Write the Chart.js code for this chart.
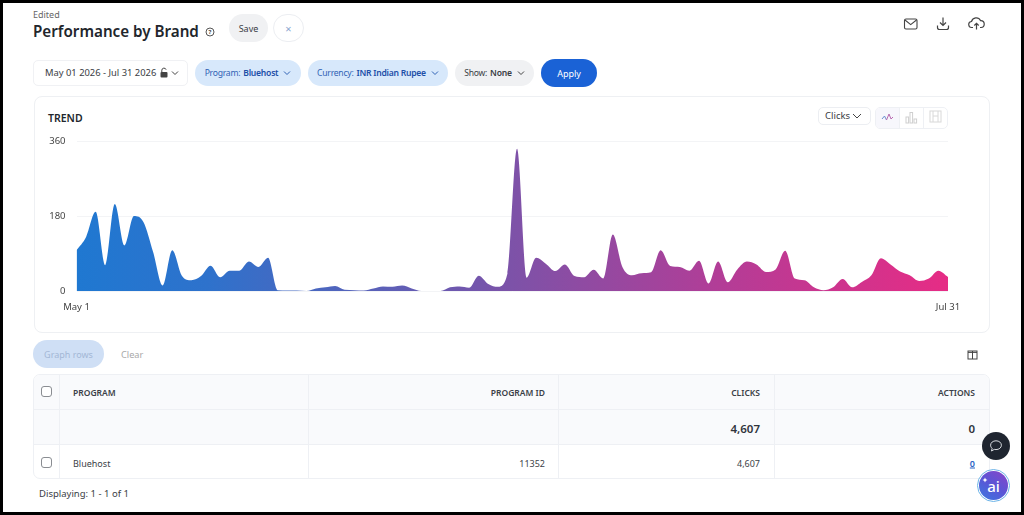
<!DOCTYPE html>
<html>
<head>
<meta charset="utf-8">
<title>Performance by Brand</title>
<script src="https://cdn.jsdelivr.net/npm/chart.js@4"></script>
<style>
  html, body { margin: 0; padding: 0; background: #fff; }
  body { width: 1024px; height: 515px; position: relative; overflow: hidden; font-family: "Noto Sans", sans-serif; color: #2b2f36; }
  #frame { position: absolute; left: 0; top: 0; width: 1024px; height: 515px; box-sizing: border-box; border: 3px solid #000; pointer-events: none; z-index: 5; }
  .abs { position: absolute; white-space: nowrap; }
  .pill { position: absolute; display: flex; align-items: center; justify-content: center; box-sizing: border-box; border-radius: 14px; font-size: 9px; white-space: nowrap; }
  .filter { font-size: 8.6px; letter-spacing: -0.25px; }
  .blue { background: #d7e8fb; color: #2f62b5; }
  .blue b { color: #1d4fa8; margin-left: 3px; font-weight: 600; }
  .grey { background: #f0f1f3; color: #3a3d44; }
  .grey b { margin-left: 3px; font-weight: 600; }
  .chev { margin-left: 5px; }
  .th { font-size: 8.5px; font-weight: 600; color: #3b3f47; transform: translateY(-50%); }
  .td { font-size: 9px; color: #3b3f47; transform: translateY(-50%); }
  .r { transform: translate(-100%, -50%); }
  .line { position: absolute; background: #eef0f4; }
  .check { position: absolute; width: 11px; height: 11px; box-sizing: border-box; border: 1px solid #8a8d92; border-radius: 3px; background: #fff; }
  #chartBox { position: absolute; left: 34px; top: 125px; width: 956px; height: 200px; }
  svg { position: absolute; fill: none; }
</style>
</head>
<body>
<div id="frame"></div>

<div class="abs" style="left:33px;top:8px;font-size:9px;color:#666">Edited</div>
<div class="abs" style="left:33px;top:21px;font-size:15.2px;font-weight:600;color:#22262c">Performance by Brand</div>
<svg style="left:205px;top:27px" width="10" height="10" viewBox="0 0 10 10"><circle cx="5" cy="5" r="4" stroke="#555" stroke-width="1"/><text x="5" y="7.3" font-size="6" font-weight="700" fill="#444" text-anchor="middle">?</text></svg>
<div class="pill grey" style="left:229px;top:14px;width:39px;height:28px">Save</div>
<div class="pill" style="left:273px;top:14px;width:31px;height:28px;border:1px solid #eceef2;color:#8aa6cf;font-size:11px">×</div>

<svg style="left:903px;top:17px" width="16" height="14" viewBox="0 0 16 14" stroke="#444" stroke-width="1.1"><rect x="1.5" y="2" width="12.5" height="10" rx="1.5"/><path d="M2 3l5.700 4.600L13.500 3"/></svg>
<svg style="left:935px;top:16px" width="16" height="15" viewBox="0 0 16 15" stroke="#444" stroke-width="1.2"><path d="M8 1.500v7.500M5 6.500L8 9.500l3-3M2.500 9.500v2a2 2 0 0 0 2 2h7a2 2 0 0 0 2-2v-2"/></svg>
<svg style="left:968px;top:16px" width="17" height="15" viewBox="0 0 17 15" stroke="#444" stroke-width="1.2"><path d="M5 11.500H4a3 3 0 0 1-.5-6A4.800 4.800 0 0 1 12.500 4.600 3.400 3.400 0 0 1 13 11.500h-1M8.500 13.500V7.500M6.300 9.500l2.200-2.200 2.200 2.200"/></svg>

<div class="abs" style="left:33px;top:60px;width:155px;height:26px;box-sizing:border-box;border:1px solid #f0f1f4;border-radius:5px"></div>
<div class="abs" style="left:45px;top:66px;font-size:9.4px;color:#3a3d44">May 01 2026 - Jul 31 2026</div>
<svg style="left:159px;top:67px" width="10" height="12" viewBox="0 0 10 12"><path d="M2.800 5V3.200a2.200 2.200 0 0 1 4.300-.5" stroke="#444" stroke-width="1"/><rect x="1.500" y="5" width="7" height="5.500" rx="1" fill="#444"/></svg>
<svg style="left:171px;top:70px" width="8" height="6" viewBox="0 0 8 6" stroke="#444" stroke-width="1"><path d="M1 1.500l3 3 3-3"/></svg>

<div class="pill blue filter" style="left:195px;top:60px;width:106px;height:26px">Program:<b>Bluehost</b><svg class="chev" style="position:static" width="8" height="6" viewBox="0 0 8 6" stroke="#2f62b5" stroke-width="1"><path d="M1 1.500l3 3 3-3"/></svg></div>
<div class="pill blue filter" style="left:308px;top:60px;width:140px;height:26px">Currency:<b>INR Indian Rupee</b><svg class="chev" style="position:static" width="8" height="6" viewBox="0 0 8 6" stroke="#2f62b5" stroke-width="1"><path d="M1 1.500l3 3 3-3"/></svg></div>
<div class="pill grey filter" style="left:455px;top:60px;width:79px;height:26px">Show:<b>None</b><svg class="chev" style="position:static" width="8" height="6" viewBox="0 0 8 6" stroke="#444" stroke-width="1"><path d="M1 1.500l3 3 3-3"/></svg></div>
<div class="pill" style="left:541px;top:59px;width:56px;height:28px;background:#1a62d6;color:#fff">Apply</div>

<div class="abs" style="left:34px;top:96px;width:956px;height:237px;box-sizing:border-box;border:1px solid #eef0f3;border-radius:8px"></div>
<div class="abs" style="left:48px;top:111px;font-size:10.5px;font-weight:600;color:#22262c">TREND</div>

<div id="chartBox"><canvas id="trendChart"></canvas></div>

<div class="abs" style="left:818px;top:107px;width:53px;height:18px;box-sizing:border-box;border:1px solid #eceef2;border-radius:5px"></div>
<div class="abs" style="left:825px;top:109px;font-size:9.5px;color:#3a3d44">Clicks</div>
<svg style="left:852px;top:113px" width="10" height="6" viewBox="0 0 10 6" stroke="#444" stroke-width="1"><path d="M1 1l4 4 4-4"/></svg>
<div class="abs" style="left:875px;top:107px;width:73px;height:22px;box-sizing:border-box;border:1px solid #eef0f4;border-radius:5px"></div>
<div class="abs" style="left:876px;top:108px;width:24px;height:20px;background:#f7f7fc;border-radius:4px 0 0 4px"></div>
<div class="line" style="left:899px;top:108px;width:1px;height:20px"></div>
<div class="line" style="left:923px;top:108px;width:1px;height:20px"></div>
<svg style="left:881px;top:112px" width="13" height="11" viewBox="0 0 13 11" stroke-width="1"><path d="M1 7l2.500-3 2 4" stroke="#6c8fd0"/><path d="M5.500 8L8 2l2 5 2-2" stroke="#b86ab0"/></svg>
<svg style="left:905px;top:111px" width="13" height="13" viewBox="0 0 13 13" stroke="#cfcfcf" stroke-width="1"><rect x="1" y="6" width="2.600" height="6"/><rect x="5" y="1.500" width="2.600" height="10.500"/><rect x="9" y="8" width="2.600" height="4"/></svg>
<svg style="left:929px;top:110px" width="13" height="13" viewBox="0 0 13 13" stroke="#d8d8d8" stroke-width="1"><rect x="1" y="1" width="11" height="11"/><path d="M4 1v11M9 1v11M4 6h5"/></svg>

<div class="pill" style="left:33px;top:340px;width:71px;height:28px;background:#cfdff5;color:#a3b7d6">Graph rows</div>
<div class="abs" style="left:121px;top:348px;font-size:9.2px;color:#a8a8a8">Clear</div>
<svg style="left:967px;top:350px" width="11" height="10" viewBox="0 0 11 10" stroke="#444" stroke-width="1"><rect x="1" y="1" width="9" height="8"/><path d="M5.500 1v8M1 2.400h9"/></svg>

<div class="abs" style="left:33px;top:374px;width:957px;height:105px;box-sizing:border-box;border:1px solid #eef0f4;border-radius:7px;overflow:hidden">
  <div style="height:70px;background:#f9fafc"></div>
</div>
<div class="line" style="left:34px;top:409px;width:955px;height:1px"></div>
<div class="line" style="left:34px;top:444px;width:955px;height:1px"></div>
<div class="line" style="left:59px;top:375px;width:1px;height:103px"></div>
<div class="line" style="left:308px;top:375px;width:1px;height:103px"></div>
<div class="line" style="left:558px;top:375px;width:1px;height:103px"></div>
<div class="line" style="left:774px;top:375px;width:1px;height:103px"></div>
<div class="check" style="left:41px;top:386px"></div>
<div class="check" style="left:41px;top:457px"></div>

<div class="abs th" style="left:73px;top:392px">PROGRAM</div>
<div class="abs th r" style="left:545px;top:392px">PROGRAM ID</div>
<div class="abs th r" style="left:760px;top:392px">CLICKS</div>
<div class="abs th r" style="left:975px;top:392px">ACTIONS</div>
<div class="abs r" style="left:760px;top:428px;font-size:11.5px;font-weight:600;color:#30343b">4,607</div>
<div class="abs r" style="left:975px;top:428px;font-size:11.5px;font-weight:600;color:#30343b">0</div>
<div class="abs td" style="left:73px;top:463px">Bluehost</div>
<div class="abs td r" style="left:545px;top:463px">11352</div>
<div class="abs td r" style="left:760px;top:463px">4,607</div>
<div class="abs td r" style="left:975px;top:463px;color:#2a62c4;font-weight:600;text-decoration:underline">0</div>
<div class="abs" style="left:39px;top:487px;font-size:9.5px;color:#3a3d44">Displaying: 1 - 1 of 1</div>

<div class="abs" style="left:982px;top:432px;width:28px;height:28px;border-radius:50%;background:#1f2530"></div>
<svg style="left:989px;top:439px" width="14" height="14" viewBox="0 0 14 14" stroke="#d8dbe0" stroke-width="1"><path d="M7 1.800c3.100 0 5.400 1.900 5.400 4.400S10.100 10.600 7 10.600c-.6 0-1.200-.1-1.700-.2L2.500 12l.6-2.700C2.100 8.500 1.600 7.400 1.600 6.200 1.600 3.700 3.900 1.800 7 1.800z"/></svg>
<div class="abs" style="left:977px;top:469px;width:33px;height:33px;box-sizing:border-box;border-radius:50%;border:1px solid #6cb4e8;background:#fff"></div>
<div class="abs" style="left:979px;top:471px;width:29px;height:29px;border-radius:50%;background:linear-gradient(215deg,#8a44c8,#5a55d6 50%,#3a7ae0);color:#fff;font-size:15px;font-weight:500;line-height:30px;text-align:center">ai</div>
<svg style="left:982px;top:475px" width="10" height="10" viewBox="0 0 10 10"><path d="M3 2.500l.8 1.700 1.700.8-1.700.8L3 7.500l-.8-1.700L.5 5l1.700-.8z" fill="#fff"/></svg>

<script>
// Chart data (clicks per day, May 1 - Jul 31)
const months = ["May", "Jun", "Jul"];
const monthDays = [31, 30, 31];
const yTicks = [0, 180, 360];
const clicks = [
    98, 130, 191, 62, 210, 110, 181, 166, 94, 13,
    98, 37, 26, 36, 61, 33, 49, 49, 71, 58,
    80, 2, 1, 1, 0, 6, 9, 12, 3, 2, 1,
    6, 11, 10, 13, 6, 0, 0, 0, 9, 11,
    8, 37, 17, 10, 42, 343, 32, 80, 66, 48,
    64, 36, 33, 51, 30, 136, 58, 38, 43, 45,
    98, 60, 58, 49, 73, 18, 71, 21, 52, 71,
    64, 46, 52, 97, 30, 26, 9, 2, 9, 29,
    9, 22, 38, 79, 64, 47, 38, 24, 30, 49, 34
];

const days = [];
months.forEach((m, i) => {
    for (let d = 1; d <= monthDays[i]; d++) days.push(m + " " + d);
});

// Blue to pink fill across the plot area
function trendGradient(context) {
    const area = context.chart.chartArea;
    if (!area) return "#2577cf";
    const g = context.chart.ctx.createLinearGradient(area.left, 0, area.right, 0);
    g.addColorStop(0, "#1f78d1");
    g.addColorStop(0.15, "#2e72cc");
    g.addColorStop(0.5, "#7d52a8");
    g.addColorStop(0.75, "#b53c96");
    g.addColorStop(1, "#e62c85");
    return g;
}

const ctx = document.getElementById("trendChart").getContext("2d");
new Chart(ctx, {
    type: "line",
    data: {
        labels: days,
        datasets: [{
            label: "Clicks",
            data: clicks,
            fill: true,
            backgroundColor: trendGradient,
            borderWidth: 0,
            pointRadius: 0,
            cubicInterpolationMode: "monotone"
        }]
    },
    options: {
        responsive: true,
        maintainAspectRatio: false,
        animation: false,
        layout: { padding: { left: 0, right: 42, top: 16, bottom: 0 } },
        plugins: { legend: { display: false }, tooltip: { enabled: false } },
        scales: {
            x: {
                grid: { display: false },
                border: { display: false },
                afterFit: scale => { scale.height = 34; },
                ticks: {
                    autoSkip: false,
                    maxRotation: 0,
                    color: "#444",
                    padding: 3,
                    font: { family: "Noto Sans", size: 9.5 },
                    callback: (v, i) => (i === 0 || i === days.length - 1) ? days[i] : null
                }
            },
            y: {
                min: 0,
                max: 360,
                afterBuildTicks: scale => { scale.ticks = yTicks.map(v => ({ value: v })); },
                afterFit: scale => { scale.width = 42.5; },
                grid: { color: "#f3f4f6", drawTicks: false },
                border: { display: false },
                ticks: {
                    color: "#444",
                    padding: 11,
                    font: { family: "Noto Sans", size: 9.5 }
                }
            }
        }
    }
});
</script>
</body>
</html>
